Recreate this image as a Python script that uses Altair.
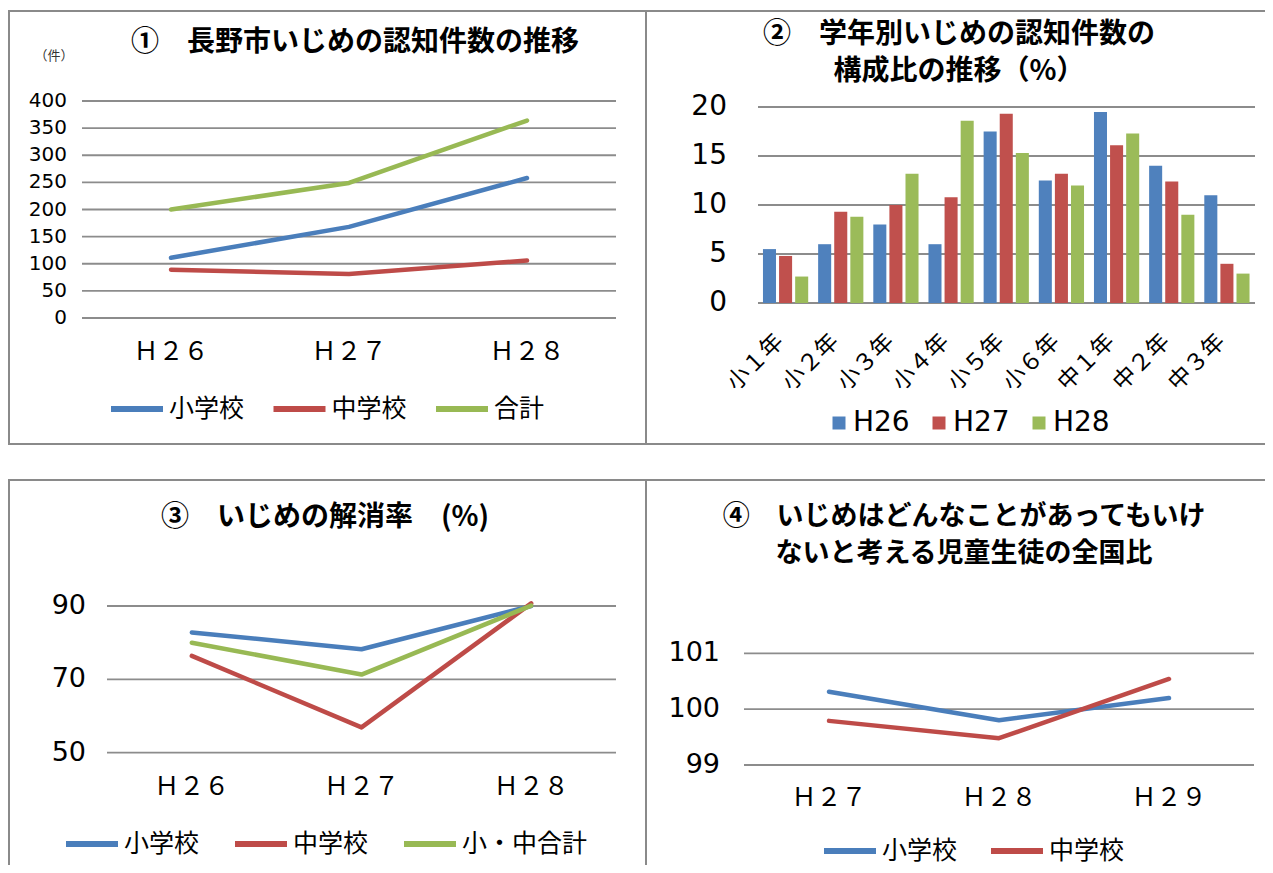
import altair as alt
import pandas as pd

# ---------------- data ----------------
# Panel 1: 長野市いじめの認知件数の推移
p1_years = ["H26", "H27", "H28"]
p1_xlabels = ["Ｈ２６", "Ｈ２７", "Ｈ２８"]
p1_series = ["小学校", "中学校", "合計"]
p1_elem = [111, 168, 258]
p1_junior = [89, 81, 106]
p1_total = [200, 249, 364]
p1_yticks = [0, 50, 100, 150, 200, 250, 300, 350, 400]

# Panel 2: 学年別いじめの認知件数の構成比の推移（%）
p2_grades = ["小１年", "小２年", "小３年", "小４年", "小５年", "小６年", "中１年", "中２年", "中３年"]
p2_years = ["H26", "H27", "H28"]
p2_h26 = [5.5, 6.0, 8.0, 6.0, 17.5, 12.5, 19.5, 14.0, 11.0]
p2_h27 = [4.8, 9.3, 10.0, 10.8, 19.3, 13.2, 16.1, 12.4, 4.0]
p2_h28 = [2.7, 8.8, 13.2, 18.6, 15.3, 12.0, 17.3, 9.0, 3.0]
p2_yticks = [0, 5, 10, 15, 20]

# Panel 3: いじめの解消率 (%)
p3_years = ["H26", "H27", "H28"]
p3_xlabels = ["Ｈ２６", "Ｈ２７", "Ｈ２８"]
p3_series = ["小学校", "中学校", "小・中合計"]
p3_elem = [82.8, 78.2, 90.0]
p3_junior = [76.4, 56.9, 90.7]
p3_total = [80.0, 71.3, 90.1]
p3_yticks = [50, 70, 90]

# Panel 4: いじめはどんなことがあってもいけないと考える児童生徒の全国比
p4_years = ["H27", "H28", "H29"]
p4_xlabels = ["Ｈ２７", "Ｈ２８", "Ｈ２９"]
p4_series = ["小学校", "中学校"]
p4_elem = [100.31, 99.80, 100.20]
p4_junior = [99.79, 99.48, 100.54]
p4_yticks = [99, 100, 101]

titles = {
    1: "①　長野市いじめの認知件数の推移",
    2: "②　学年別いじめの認知件数の\n構成比の推移（%）",
    3: "③　いじめの解消率　(%)",
    4: "④　いじめはどんなことがあってもいけ\nないと考える児童生徒の全国比",
}

# ---------------- style ----------------
FONT = "Noto Sans CJK JP"
NUMFONT = "DejaVu Sans"
TXT = "#000000"
GRID = "#8c8c8c"
BORDER = "#8a8a8a"
LBLUE, LRED, LGREEN = "#4A7EBB", "#BE4B48", "#98B954"
BBLUE, BRED, BGREEN = "#4F81BD", "#C0504D", "#9BBB59"

OX, OY = 8, 8


def px(v):
    return v - OX


def py(v):
    return v - OY


def one(**kw):
    return pd.DataFrame({k: [v] for k, v in kw.items()})


def line_panel(cats, xlabels, series, values, colors, yticks, ydom,
               xr, yr, ylab_x, ylab_size, xlab_y, leg_x, leg_y, leg_pad):
    rows = []
    for s, vals in zip(series, values):
        for c, v in zip(cats, vals):
            rows.append({"cat": c, "series": s, "v": v})
    df = pd.DataFrame(rows)
    xs = alt.Scale(type="point", domain=cats, range=[px(xr[0]), px(xr[1])], padding=0.5)
    ys = alt.Scale(domain=ydom, range=[py(yr[0]), py(yr[1])], zero=False, nice=False)
    tick_df = pd.DataFrame({"t": yticks})
    grid = alt.Chart(tick_df).mark_rule(color=GRID, strokeWidth=1.8).encode(
        y=alt.Y("t:Q", scale=ys, axis=None),
        x=alt.value(px(xr[0])), x2=alt.value(px(xr[1])))
    ylab = alt.Chart(tick_df).mark_text(
        align="right", baseline="middle", font=NUMFONT, fontSize=ylab_size, color=TXT
    ).encode(y=alt.Y("t:Q", scale=ys, axis=None), x=alt.value(px(ylab_x)), text=alt.Text("t:Q"))
    xlab = alt.Chart(pd.DataFrame({"cat": cats, "lab": xlabels})).mark_text(
        align="center", baseline="middle", font=FONT, fontSize=25, color=TXT
    ).encode(x=alt.X("cat:N", scale=xs, axis=None), y=alt.value(py(xlab_y)), text="lab:N")
    lines = alt.Chart(df).mark_line(strokeWidth=4.5, strokeCap="round", strokeJoin="round").encode(
        x=alt.X("cat:N", scale=xs, axis=None),
        y=alt.Y("v:Q", scale=ys, axis=None),
        color=alt.Color("series:N", scale=alt.Scale(domain=series, range=colors),
                        legend=alt.Legend(orient="none", legendX=px(leg_x), legendY=py(leg_y),
                                          direction="horizontal", title=None,
                                          symbolType="stroke", symbolSize=52 * 52,
                                          symbolStrokeWidth=6, labelFont=FONT,
                                          labelFontSize=25, labelColor=TXT, labelOffset=3,
                                          columnPadding=leg_pad, padding=0, labelLimit=400)),
    )
    return alt.layer(grid, ylab, xlab, lines)


def title_chart(text, x, y, size, lh):
    return alt.Chart(one(t=text)).mark_text(
        font=FONT, fontSize=size, fontWeight="bold", align="center", baseline="middle",
        lineBreak="\n", lineHeight=lh, color=TXT
    ).encode(x=alt.value(px(x)), y=alt.value(py(y)), text="t:N")


def border(x1, y1, x2, y2):
    return alt.Chart(one(k=0)).mark_rect(filled=False, stroke=BORDER, strokeWidth=2).encode(
        x=alt.value(px(x1)), x2=alt.value(px(x2)), y=alt.value(py(y1)), y2=alt.value(py(y2)))


# ---------------- panel 1 ----------------
p1 = line_panel(p1_years, p1_xlabels, p1_series, [p1_elem, p1_junior, p1_total],
                [LBLUE, LRED, LGREEN], p1_yticks, [0, 400],
                (82, 616), (318, 101), 67, 20, 352, 108, 380, 16.5)

# ---------------- panel 2 ----------------
rows2 = []
for yr_, vals in zip(p2_years, [p2_h26, p2_h27, p2_h28]):
    for g, v in zip(p2_grades, vals):
        rows2.append({"grade": g, "year": yr_, "v": v})
df2 = pd.DataFrame(rows2)
xs2 = alt.Scale(domain=p2_grades, range=[px(758), px(1254.5)], paddingInner=0.18, paddingOuter=0.09)
ys2 = alt.Scale(domain=[0, 20], range=[py(303), py(107)], nice=False)
t2 = pd.DataFrame({"t": p2_yticks})
grid2 = alt.Chart(t2).mark_rule(color=GRID, strokeWidth=1.8).encode(
    y=alt.Y("t:Q", scale=ys2, axis=None), x=alt.value(px(758)), x2=alt.value(px(1255)))
ylab2 = alt.Chart(t2).mark_text(align="right", baseline="middle", font=NUMFONT, fontSize=28,
                                color=TXT).encode(
    y=alt.Y("t:Q", scale=ys2, axis=None), x=alt.value(px(727)), text=alt.Text("t:Q"))
bars2 = alt.Chart(df2).mark_bar().encode(
    x=alt.X("grade:N", scale=xs2, axis=None),
    xOffset=alt.XOffset("year:N", scale=alt.Scale(domain=p2_years, paddingInner=0.19)),
    y=alt.Y("v:Q", scale=ys2, axis=None),
    color=alt.Color("year:N", scale=alt.Scale(domain=p2_years, range=[BBLUE, BRED, BGREEN]),
                    legend=alt.Legend(orient="none", legendX=px(825), legendY=py(409),
                                      direction="horizontal", title=None, symbolType="square",
                                      symbolSize=169, symbolStrokeWidth=0, labelFont=NUMFONT,
                                      labelFontSize=28, labelColor=TXT, labelOffset=0,
                                      columnPadding=15, padding=0)),
)
xlab2 = alt.Chart(pd.DataFrame({"grade": p2_grades})).mark_text(
    angle=315, align="right", baseline="middle", font=FONT, fontSize=23, color=TXT
).encode(x=alt.X("grade:N", scale=xs2, axis=None, bandPosition=0.375),
         y=alt.value(py(338)), text="grade:N")
p2 = alt.layer(grid2, ylab2, bars2, xlab2)

# ---------------- panel 3 ----------------
p3 = line_panel(p3_years, p3_xlabels, p3_series, [p3_elem, p3_junior, p3_total],
                [LBLUE, LRED, LGREEN], p3_yticks, [50, 90],
                (107, 616), (752.7, 606), 86, 27, 787, 63, 815, 23)

# ---------------- panel 4 ----------------
p4 = line_panel(p4_years, p4_xlabels, p4_series, [p4_elem, p4_junior],
                [LBLUE, LRED], p4_yticks, [99, 101],
                (744, 1254), (765, 653.3), 720, 27, 798, 821, 822, 21)

unit = alt.Chart(one(t="（件）")).mark_text(
    font=FONT, fontSize=13, align="center", baseline="middle", color="#333333"
).encode(x=alt.value(px(54)), y=alt.value(py(56)), text="t:N")

chart = alt.layer(
    border(9, 11, 646, 444), border(646, 11, 1300, 444),
    border(9, 480, 646, 900), border(646, 480, 1300, 900),
    p1, p2, p3, p4,
    title_chart(titles[1], 355, 43, 28, 37),
    title_chart(titles[2], 959, 35, 28, 37),
    title_chart(titles[3], 325, 518, 28, 37),
    title_chart(titles[4], 964, 517, 27, 36.5),
    unit,
).resolve_scale(
    x="independent", y="independent", color="independent"
).properties(
    width=1257, height=857, padding=0, autosize="none", background="white"
).configure_view(stroke=None)

chart.save("out.html", embed_options={"renderer": "svg", "actions": False})
